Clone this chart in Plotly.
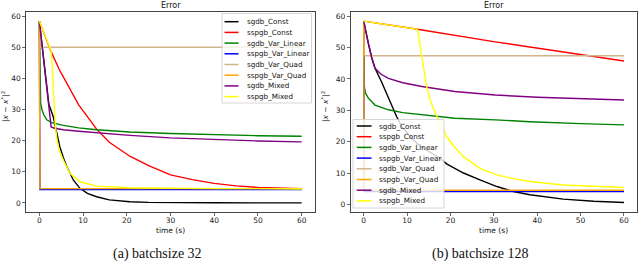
import plotly.graph_objects as go

# ---------------- data ----------------
series_names = ["sgdb_Const", "sspgb_Const", "sgdb_Var_Linear", "sspgb_Var_Linear",
                "sgdb_Var_Quad", "sspgb_Var_Quad", "sgdb_Mixed", "sspgb_Mixed"]
series_colors = ["#000000", "#ff0000", "#008000", "#0000ff",
                 "#d2b48c", "#ffa500", "#800080", "#ffff00"]
x_ticks = [0, 10, 20, 30, 40, 50, 60]
y_ticks = [0, 10, 20, 30, 40, 50, 60]
panel_titles = ["Error", "Error"]
captions = ["(a) batchsize 32", "(b) batchsize 128"]

# (a) batchsize 32
b32_sgdb_const_t = [0, 0.8, 1.5, 1.9, 2.2, 2.5, 3.2, 4.0, 4.7, 5.5, 6.3, 7.8, 9.3, 11, 13.1, 16, 20.7, 25, 30, 40, 50, 60]
b32_sgdb_const_y = [58.4, 48, 39, 34, 31.5, 30.5, 27.6, 22.5, 18, 14.5, 11.6, 7.3, 4.7, 3.1, 2.0, 1.0, 0.4, 0.2, 0.1, 0.05, 0.03, 0.03]
b32_sspgb_const_t = [0, 2.6, 4.5, 6.3, 9, 13.1, 16, 20.7, 25, 30, 35, 40, 45, 50, 55, 60]
b32_sspgb_const_y = [58.4, 48.9, 43, 38.2, 31.5, 23.7, 19.5, 15, 12, 9.0, 7.5, 6.3, 5.5, 5.0, 4.75, 4.6]
b32_sgdb_lin_t = [0, 0.15, 0.3, 0.6, 1.0, 1.7, 3, 5.5, 9, 13.1, 20.7, 30, 40, 50, 60]
b32_sgdb_lin_y = [58.4, 40, 32, 30.0, 28.4, 26.7, 25.7, 24.9, 24.1, 23.5, 22.8, 22.3, 21.9, 21.6, 21.4]
b32_sspgb_lin_t = [0, 0.15, 60]
b32_sspgb_lin_y = [58.4, 4.3, 4.3]
b32_sgdb_quad_t = [0, 0.15, 60]
b32_sgdb_quad_y = [58.4, 50.0, 50.0]
b32_sspgb_quad_t = [0, 0.15, 60]
b32_sspgb_quad_y = [58.4, 4.6, 4.6]
b32_sgdb_mix_t = [0, 0.5, 1.0, 1.5, 2.0, 2.4, 2.7, 3.5, 5.5, 9, 13.1, 20.7, 30, 40, 50, 60]
b32_sgdb_mix_y = [58.4, 52, 45.5, 38.5, 31.5, 26.5, 24.4, 24.0, 23.5, 23.0, 22.5, 21.7, 20.9, 20.3, 19.9, 19.6]
b32_sspgb_mix_t = [0, 2.7, 2.9, 3.1, 3.3, 3.6, 4.0, 4.5, 5.5, 7.0, 9.3, 13.1, 20.7, 30, 40, 50, 60]
b32_sspgb_mix_y = [58.4, 48.8, 45, 39, 33, 26, 20.5, 17, 13.7, 9.5, 6.8, 5.4, 4.9, 4.7, 4.6, 4.6, 4.5]

# (b) batchsize 128
b128_sgdb_const_t = [0, 0.5, 1.07, 1.8, 2.6, 4.1, 5.7, 7.6, 8.8, 11, 13, 15.3, 17.6, 19.1, 23, 26.8, 30.7, 34.5, 38.3, 46, 53, 60]
b128_sgdb_const_y = [58.4, 54.5, 51.3, 47, 43.4, 39.1, 33.9, 28.0, 24.9, 21.2, 18.6, 16.6, 14.8, 13.0, 10.1, 7.9, 5.8, 4.2, 3.2, 1.8, 1.1, 0.7]
b128_sspgb_const_t = [0, 12.4, 30.3, 45, 60]
b128_sspgb_const_y = [58.4, 55.8, 51.8, 48.7, 45.7]
b128_sgdb_lin_t = [0, 0.15, 0.4, 1.07, 2.6, 5.7, 9, 13.4, 21, 30.3, 38.3, 50, 60]
b128_sgdb_lin_y = [58.4, 37.6, 35.5, 33.9, 31.7, 30.2, 29.3, 28.6, 27.5, 27.0, 26.4, 25.8, 25.4]
b128_sspgb_lin_t = [0, 0.15, 60]
b128_sspgb_lin_y = [58.4, 4.2, 4.2]
b128_sgdb_quad_t = [0, 0.15, 60]
b128_sgdb_quad_y = [58.4, 47.4, 47.4]
b128_sspgb_quad_t = [0, 0.15, 60]
b128_sspgb_quad_y = [58.4, 4.6, 4.6]
b128_sgdb_mix_t = [0, 0.5, 1.07, 1.8, 2.6, 4, 5.7, 9, 13.4, 21, 30.3, 40, 50, 60]
b128_sgdb_mix_y = [58.4, 54.5, 51.3, 47, 43.4, 41.5, 40.2, 38.8, 37.6, 36.0, 34.9, 34.2, 33.7, 33.3]
b128_sspgb_mix_t = [0, 12.4, 13.0, 13.7, 14.5, 15.5, 16.4, 17.2, 18.4, 19.1, 21, 23, 26.8, 30.7, 34.5, 38.3, 46, 53, 60]
b128_sspgb_mix_y = [58.4, 55.8, 50.5, 44, 37.6, 32.5, 29.5, 27.0, 23.8, 21.7, 18.2, 15.3, 11.6, 9.5, 8.3, 7.4, 6.3, 5.8, 5.5]

panel_a = [
    (b32_sgdb_const_t, b32_sgdb_const_y), (b32_sspgb_const_t, b32_sspgb_const_y),
    (b32_sgdb_lin_t, b32_sgdb_lin_y), (b32_sspgb_lin_t, b32_sspgb_lin_y),
    (b32_sgdb_quad_t, b32_sgdb_quad_y), (b32_sspgb_quad_t, b32_sspgb_quad_y),
    (b32_sgdb_mix_t, b32_sgdb_mix_y), (b32_sspgb_mix_t, b32_sspgb_mix_y),
]
panel_b = [
    (b128_sgdb_const_t, b128_sgdb_const_y), (b128_sspgb_const_t, b128_sspgb_const_y),
    (b128_sgdb_lin_t, b128_sgdb_lin_y), (b128_sspgb_lin_t, b128_sspgb_lin_y),
    (b128_sgdb_quad_t, b128_sgdb_quad_y), (b128_sspgb_quad_t, b128_sspgb_quad_y),
    (b128_sgdb_mix_t, b128_sgdb_mix_y), (b128_sspgb_mix_t, b128_sspgb_mix_y),
]

# ---------------- layout helpers (pixel -> paper) ----------------
W, H = 640, 261
def px(x):
    return x / W
def py(y):
    return 1 - y / H

FONT = "DejaVu Sans"
TICK_FONT = dict(family=FONT, size=7.5, color="#222")
AX_TOP, AX_BOT = 12, 212
AX_A = (26.2, 314.8)
AX_B = (350.7, 637.0)

fig = go.Figure()
for panel, (xa, ya) in ((panel_a, ("x", "y")), (panel_b, ("x2", "y2"))):
    for (t, v), name, col in zip(panel, series_names, series_colors):
        fig.add_trace(go.Scatter(x=t, y=v, mode="lines", name=name,
                                 line=dict(color=col, width=1.4),
                                 xaxis=xa, yaxis=ya, showlegend=False,
                                 hoverinfo="skip"))

axis_common = dict(showgrid=False, zeroline=False, showline=True, mirror=True,
                   linecolor="#444", linewidth=1, ticks="outside", ticklen=3,
                   tickwidth=0.8, tickcolor="#444", tickfont=TICK_FONT)

fig.update_layout(
    width=W, height=H, margin=dict(l=0, r=0, t=0, b=0),
    paper_bgcolor="white", plot_bgcolor="white", showlegend=False,
    xaxis=dict(domain=[px(AX_A[0]), px(AX_A[1])], range=[-3, 63], anchor="y",
               tickvals=x_ticks, ticklabelstandoff=-2, **axis_common),
    yaxis=dict(domain=[py(AX_BOT), py(AX_TOP)], range=[-2.9, 61.3], anchor="x",
               tickvals=y_ticks, **axis_common),
    xaxis2=dict(domain=[px(AX_B[0]), px(AX_B[1])], range=[-3, 63], anchor="y2",
                tickvals=x_ticks, ticklabelstandoff=-2, **axis_common),
    yaxis2=dict(domain=[py(AX_BOT), py(AX_TOP)], range=[-2.3, 61.3], anchor="x2",
                tickvals=y_ticks, **axis_common),
)

annotations = []
shapes = []
ylabel = "|<i>x</i> − <i>x</i><sup>*</sup>|<sup>2</sup>"
for (x0, x1), title, cap, ylx in ((AX_A, panel_titles[0], captions[0], 5),
                                  (AX_B, panel_titles[1], captions[1], 325)):
    cx = (x0 + x1) / 2
    annotations.append(dict(text=title, x=px(cx), y=py(5.5), xref="paper", yref="paper",
                            showarrow=False, xanchor="center", yanchor="middle",
                            font=dict(family=FONT, size=8, color="#111")))
    annotations.append(dict(text="time (s)", x=px(cx), y=py(230.5), xref="paper", yref="paper",
                            showarrow=False, xanchor="center", yanchor="middle",
                            font=dict(family=FONT, size=7.5, color="#111")))
    annotations.append(dict(text=cap, x=px(cx - 13.5), y=py(253.5), xref="paper", yref="paper",
                            showarrow=False, xanchor="center", yanchor="middle",
                            font=dict(family="Liberation Serif", size=14, color="#111")))
    annotations.append(dict(text=ylabel, x=px(ylx), y=py(107), xref="paper", yref="paper",
                            showarrow=False, xanchor="center", yanchor="middle", textangle=-90,
                            font=dict(family=FONT, size=7.5, color="#111")))

# manual legends (matplotlib style, compact)
legend_boxes = [
    dict(box=(222, 13.5, 311.5, 103), first=21.7, h0=224.5, h1=238.5, tx=245),
    dict(box=(353, 119.5, 444, 208), first=126, h0=356.7, h1=371.5, tx=376.7),
]
STEP = 10.7
for lg in legend_boxes:
    bx0, by0, bx1, by1 = lg["box"]
    shapes.append(dict(type="rect", xref="paper", yref="paper",
                       x0=px(bx0), x1=px(bx1), y0=py(by1), y1=py(by0),
                       fillcolor="rgba(255,255,255,0.8)",
                       line=dict(color="#cccccc", width=0.8), layer="above"))
    for i, (name, col) in enumerate(zip(series_names, series_colors)):
        yy = lg["first"] + i * STEP
        shapes.append(dict(type="line", xref="paper", yref="paper",
                           x0=px(lg["h0"]), x1=px(lg["h1"]), y0=py(yy), y1=py(yy),
                           line=dict(color=col, width=1.5), layer="above"))
        annotations.append(dict(text=name, x=px(lg["tx"]), y=py(yy), xref="paper", yref="paper",
                                showarrow=False, xanchor="left", yanchor="middle",
                                font=dict(family=FONT, size=7.2, color="#111")))

fig.update_layout(annotations=annotations, shapes=shapes)
fig.write_html("out.html", config={"displayModeBar": False, "staticPlot": True},
               post_script="document.body.style.margin='0px';document.body.style.overflow='hidden';")
